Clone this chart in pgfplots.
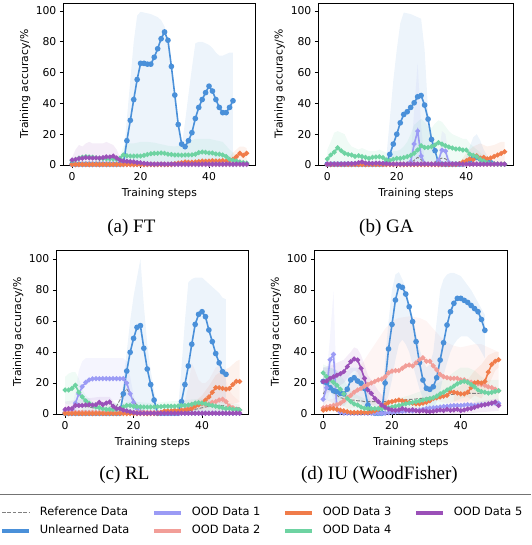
\documentclass[border=0pt]{standalone}
\usepackage{fontspec}
\setmainfont{DejaVu Sans}
\newfontfamily\capfont{Liberation Serif}
\usepackage{pgfplots}
\pgfplotsset{compat=1.18}
\usepackage{pgfplotstable}
\usepgfplotslibrary{fillbetween}

\definecolor{cun}{HTML}{4A90D9}
\definecolor{co1}{HTML}{9B9BF5}
\definecolor{co2}{HTML}{F29E98}
\definecolor{co3}{HTML}{F07C4A}
\definecolor{co4}{HTML}{6ED3A2}
\definecolor{co5}{HTML}{9B50B8}
\definecolor{cref}{HTML}{808080}

% ---------------- (a) FT ----------------
\pgfplotstableread{
x ref un o1 o2 o3 o4 o5
0 1.0 0.5 0.3 0.5 0.3 2.8 3.2
1 1.0 0.5 0.3 0.5 0.3 3.5 3.6
2 1.2 0.5 0.3 0.5 0.3 4.5 4.2
3 1.2 0.5 0.3 0.5 0.3 5.0 4.4
4 1.2 0.5 0.3 0.5 0.3 5.4 4.8
5 1.2 0.5 0.3 0.5 0.3 5.2 4.6
6 1.2 0.5 0.3 0.5 0.3 5.0 4.5
7 1.2 0.5 0.3 0.5 0.3 4.6 4.6
8 1.2 0.5 0.3 0.5 0.3 4.3 4.4
9 1.2 0.5 0.3 0.5 0.3 4.2 4.8
10 1.2 0.5 0.3 0.5 0.3 4.0 5.3
11 1.2 0.5 0.3 0.5 0.3 4.0 5.2
12 1.2 0.5 0.3 0.5 0.3 3.9 5.8
13 1.2 0.5 0.3 0.5 0.3 3.8 4.6
14 1.2 0.5 0.3 0.5 0.3 4.5 3.2
15 1.2 0.8 0.3 0.5 0.3 6.5 2.6
16 1.2 15.8 0.3 0.5 0.3 6.0 2.4
17 1.2 29.0 0.3 0.5 0.3 5.8 2.2
18 1.2 42.5 0.3 0.5 0.3 5.8 2.0
19 1.2 55.5 0.3 0.5 0.3 5.8 1.6
20 1.2 66.0 0.3 0.5 0.3 5.8 1.4
21 1.2 66.0 0.3 0.5 0.3 6.2 1.0
22 1.2 65.5 0.3 0.5 0.3 6.8 0.8
23 1.2 65.5 0.3 0.5 0.3 7.3 0.6
24 1.2 70.0 0.3 0.5 0.3 7.6 0.6
25 1.2 75.5 0.3 0.5 0.3 7.6 0.6
26 1.2 82.0 0.3 0.5 0.3 7.8 0.6
27 1.2 86.4 0.3 0.5 0.3 7.6 0.6
28 1.2 81.0 0.3 0.5 0.3 7.0 0.6
29 1.2 64.0 0.3 0.5 0.3 6.8 0.6
30 1.2 45.4 0.3 0.5 0.8 6.5 0.6
31 1.2 26.3 0.3 0.5 1.2 6.5 0.6
32 1.2 13.6 0.3 0.5 1.5 6.4 0.6
33 1.2 11.9 0.3 0.5 2.0 6.5 0.6
34 1.2 15.8 0.3 0.5 1.8 6.5 0.6
35 1.2 21.0 0.3 0.5 1.8 6.6 0.6
36 1.2 30.2 0.3 0.5 2.0 7.0 0.6
37 1.2 37.4 0.3 0.5 2.2 8.0 0.6
38 1.2 42.5 0.3 0.5 2.5 8.4 0.6
39 1.2 47.0 0.3 0.5 2.4 8.2 0.6
40 1.2 51.2 0.3 0.5 2.5 7.8 0.6
41 1.2 48.0 0.3 0.5 2.8 7.8 0.6
42 1.2 42.5 0.3 0.5 2.6 7.2 0.6
43 1.2 37.4 0.3 0.5 2.6 7.0 0.6
44 1.2 34.0 0.3 0.5 2.8 6.5 0.6
45 1.2 34.0 0.3 0.5 2.5 5.5 0.6
46 1.2 37.4 0.3 0.5 3.2 3.7 0.6
47 1.2 41.7 0.3 0.5 3.7 3.0 0.6
48 1.2 nan 0.3 0.5 5.4 2.6 0.6
49 1.2 nan 0.3 0.5 7.6 2.0 0.6
50 1.2 nan 0.3 0.5 6.3 1.5 0.6
51 1.2 nan 0.3 0.5 7.6 1.2 0.6
}\tA
\pgfplotstableread{
x hi lo
14 0.5 0
15 5 0
16 30 0
17 55 0
18 80 0
19 97 0
20 99.5 0
21 99 0
22 98.5 0
23 98 0
24 97 0
25 96 0
26 94 0
27 90 0
28 80 0
29 60 0
30 42 0
31 24 0
32 12 0
33 28 0
34 46 0
35 63 0
36 79 0
37 80 0
38 80 0
39 79 0
40 78 0
41 76 0
42 73 0
43 71 0
44 71 0
45 72 0
46 73 0
47 73 0
}\bAun
\pgfplotstableread{
x hi lo
0 5 1
1 10 1
2 13 1
3 12 1
4 14 1
5 15 1
6 14 1
7 14 1
8 14 1
9 14 1
10 15 1
11 14 1
12 13 1
13 10 1
14 5 1
15 4 1
16 3 0.5
20 2 0.3
}\bAo
\pgfplotstableread{
x hi lo
14 6 1
15 12 1
16 14 1
18 14 1
20 15 1
22 15 1
24 14.5 1
26 13.5 1
28 12.5 1
30 12 1
32 13 1
34 15 1
36 17 1
38 17 1
40 17 1
42 16 1
44 15 1
46 10 0.5
48 6 0.5
}\bAg
\pgfplotstableread{
x hi lo
45 3 1
46 5 1
47 8 1
48 10 1.5
49 12 3
50 12 2
51 11 3
}\bAr

% ---------------- (b) GA ----------------
\pgfplotstableread{
x ref un o1 o2 o3 o4 o5
0 1.2 0.5 0.5 0.5 0.3 3.9 0.6
1 1.2 0.5 0.5 0.5 0.3 6.5 0.6
2 1.2 0.5 0.5 0.5 0.3 8.4 0.6
3 1.2 0.5 0.5 0.5 0.3 11.2 0.6
4 1.2 0.5 0.5 0.5 0.3 9.3 0.6
5 1.2 0.5 0.5 0.5 0.3 7.6 0.6
6 1.2 0.5 0.5 0.5 0.3 6.9 0.8
7 1.2 0.5 0.5 0.5 0.3 6.5 0.8
8 1.2 0.5 0.5 0.5 0.3 5.6 1.0
9 1.2 0.5 0.5 0.5 0.3 6.0 1.5
10 1.2 0.5 0.5 0.5 0.3 5.4 2.0
11 1.2 0.5 0.5 0.5 0.3 5.0 1.2
12 1.2 0.5 0.5 0.5 0.3 4.3 1.0
13 1.2 0.5 0.5 0.5 0.3 5.0 1.0
14 1.2 0.5 0.5 0.5 0.3 5.2 1.2
15 1.2 0.5 0.5 0.5 0.3 5.4 1.2
16 1.2 0.5 0.5 0.5 0.3 4.8 1.0
17 1.2 1.0 0.5 0.5 0.3 3.2 0.8
18 1.2 6.9 0.5 0.5 0.3 3.0 0.6
19 1.2 13.6 0.5 0.5 0.3 3.7 0.6
20 1.2 20.0 0.5 0.5 0.3 4.3 0.6
21 1.2 27.4 0.5 0.5 0.3 4.3 0.6
22 1.2 32.8 0.5 0.5 0.3 4.8 0.6
23 1.2 34.6 0.5 0.5 0.3 5.4 0.6
24 1.5 37.4 2.0 0.5 0.3 6.3 0.6
25 3.0 40.4 13.6 0.5 0.3 7.6 0.6
26 5.0 44.3 22.0 0.5 0.3 9.7 0.6
27 3.5 45.1 5.8 0.5 0.3 12.5 0.6
28 1.5 38.9 1.0 0.5 0.3 11.4 0.6
29 1.0 29.8 0.5 0.5 0.3 11.4 0.6
30 1.0 16.6 0.5 0.5 0.3 11.9 0.6
31 2.0 9.3 0.5 0.5 0.3 13.0 0.6
32 3.5 1.0 3.0 0.5 0.3 14.5 0.6
33 4.5 0.5 9.7 0.5 0.3 13.6 0.6
34 4.0 0.5 9.0 0.5 0.3 12.5 0.6
35 2.0 0.5 1.5 0.5 0.3 11.7 0.6
36 1.2 0.5 0.5 0.5 0.3 11.0 0.6
37 1.2 0.5 0.5 0.5 0.3 10.4 0.6
38 1.2 0.5 0.5 0.5 0.8 10.4 0.6
39 1.2 0.5 0.5 0.5 2.0 9.7 0.6
40 1.2 1.5 0.5 0.5 2.8 9.7 0.6
41 1.2 3.0 0.5 0.5 4.0 7.1 0.6
42 1.2 4.5 0.5 0.5 3.5 6.3 0.6
43 1.2 5.0 0.5 0.5 6.0 5.4 0.6
44 1.2 4.0 0.5 0.5 4.5 3.7 0.6
45 1.2 3.0 0.5 0.5 5.0 2.6 0.6
46 1.2 2.0 0.5 0.5 4.0 1.5 0.6
47 1.2 1.5 0.5 0.5 4.5 1.0 0.6
48 1.2 nan 0.5 0.5 5.5 0.8 0.6
49 1.2 nan 0.5 0.5 6.5 0.6 0.6
50 1.2 nan 0.5 0.5 7.5 0.5 0.6
51 1.2 nan 0.5 0.5 8.6 0.5 0.6
}\tB
\pgfplotstableread{
x hi lo
16 0.5 0
17 5 0
18 30 0
19 55 0
20 75 0
21 92 0
22 99 0
23 98.5 0
24 98 0
25 97 0
26 96 0
27 95 0
28 75 0
29 35 0
30 15 0
31 5 0
32 2 0
33 0.5 0
39 0.5 0
40 5 0
41 12 0
42 18 0
43 20 0
44 16 0
45 10 0
46 6 0
47 3 0
}\bBun
\pgfplotstableread{
x hi lo
23 0.5 0
24 5 0
25 35 0
26 66 0
27 25 0
28 3 0
29 0.5 0
31 0.5 0
32 5 0
33 22 0
34 20 0
35 5 0
36 0.5 0
}\bBl
\pgfplotstableread{
x hi lo
0 10 0
1 15 0
2 21 0
3 22 0
4 21 0
5 20 0
6 15 0
7 12 0
8 11 0
9 10 0
10 11 0
11 10 0
12 9 0
13 9 0
14 9 0
15 10 0
16 9 0
17 8 0
18 8 0
19 9 0
20 9 0
21 10 0
22 12 0
23 15 0
24 20 0
25 26 0
26 28 0
27 30 0
28 28 0
29 25 0
30 24 0
31 27 0
32 29 0
33 28 0
34 25 0
35 22 0
36 20 0
37 19 0
38 18 0
39 17 0
40 17 0
41 14 0
42 12 0
43 10 0
44 8 0
45 6 0
46 4 0
47 2 0
}\bBg
\pgfplotstableread{
x hi lo
38 1 0
40 8 0
42 12 0
44 14 0
46 12 0
48 13 0
50 15 0
51 15 0
}\bBr

% ---------------- (c) RL ----------------
\pgfplotstableread{
x ref un o1 o2 o3 o4 o5
0 2.0 0.5 2.5 1.0 0.3 15.5 3.0
1 3.0 0.5 2.5 1.0 0.3 15.5 3.5
2 4.0 0.5 3.0 1.0 0.3 16.5 3.5
3 5.0 0.5 7.0 1.0 0.3 18.5 5.5
4 5.5 0.5 13.0 1.0 0.3 14.0 5.5
5 5.0 0.5 17.6 1.0 0.3 11.0 5.5
6 5.0 0.5 20.4 1.0 0.3 8.5 5.8
7 4.5 0.5 22.0 1.0 0.3 7.0 6.0
8 4.0 0.5 22.6 1.0 0.3 5.5 5.8
9 4.0 0.5 22.8 1.0 0.3 4.5 6.0
10 4.0 0.5 22.8 1.0 0.3 4.0 7.5
11 3.5 0.5 22.8 1.0 0.3 3.5 6.0
12 3.0 0.5 22.8 1.0 0.3 3.0 7.0
13 3.0 0.5 22.8 1.0 0.3 3.0 7.7
14 3.0 0.5 22.8 1.0 0.3 3.0 5.0
15 5.0 0.5 22.8 1.0 0.3 3.0 3.5
16 9.0 0.5 22.8 1.0 0.3 3.5 3.5
17 14.0 13.0 22.8 1.0 0.3 4.5 2.5
18 16.0 27.7 20.0 1.0 0.3 5.5 2.0
19 13.0 39.8 13.0 1.0 0.3 5.5 1.5
20 9.0 48.8 7.5 1.0 0.3 5.0 1.0
21 5.5 55.9 3.5 1.0 0.3 4.8 0.5
22 3.5 57.0 1.5 1.0 0.3 4.6 0.5
23 2.0 42.4 0.8 1.0 0.3 4.5 0.5
24 1.0 29.0 0.5 1.0 0.3 4.5 0.5
25 0.5 19.0 0.5 1.0 0.3 4.5 0.5
26 0.5 9.0 0.5 1.0 0.3 4.6 0.5
27 0.5 0.5 0.5 1.0 0.3 4.7 0.5
28 0.5 0.5 0.5 1.0 1.0 4.8 0.5
29 0.5 0.5 0.5 1.0 2.0 5.0 0.5
30 0.5 0.5 0.5 1.0 2.0 5.0 0.5
31 0.5 0.5 0.5 1.0 2.0 5.0 0.5
32 0.5 0.5 0.5 1.0 2.5 5.0 0.5
33 0.5 0.5 0.5 1.0 2.0 5.2 0.5
34 1.0 8.0 0.5 2.0 2.5 5.5 0.5
35 1.5 19.0 0.5 3.0 2.5 5.5 0.5
36 2.0 31.0 0.5 4.0 3.0 5.8 0.5
37 2.5 45.0 0.5 6.0 3.5 6.2 0.5
38 3.0 57.8 0.5 6.5 5.0 7.0 0.5
39 3.5 64.3 0.5 6.0 6.0 7.3 0.5
40 4.0 66.0 0.5 6.5 7.0 7.0 0.5
41 4.5 62.8 0.5 6.0 9.0 6.5 0.5
42 5.0 54.2 0.5 6.5 11.0 6.0 0.5
43 5.0 46.7 0.5 7.5 14.0 5.5 0.5
44 5.5 39.0 0.5 8.0 17.0 5.0 0.5
45 5.5 33.0 0.5 9.0 17.0 4.5 0.5
46 5.5 27.3 0.5 9.5 16.5 4.0 0.5
47 5.0 25.6 0.5 8.0 16.0 3.5 0.5
48 5.0 nan 0.5 5.0 16.5 3.5 0.5
49 4.5 nan 0.5 4.0 19.0 3.0 0.5
50 4.0 nan 0.5 3.0 21.0 3.0 0.5
51 4.0 nan 0.5 2.5 21.0 2.6 0.5
}\tC
\pgfplotstableread{
x hi lo
15 0.5 0
16 3 0
17 20 0
18 40 0
19 60 0
20 76 0
21 88 0
22 100 0
23 70 0
24 45 0
25 28 0
26 15 0
27 3 0
28 0.5 0
32 0.5 0
33 3 0
34 30 0
35 60 0
36 85 0
37 87 0
38 88 0
39 88 0
40 88 0
41 86 0
42 84 0
43 82 0
44 80 0
45 78 0
46 75 0
47 74 0
}\bCun
\pgfplotstableread{
x hi lo
1 3 1
2 4 1
3 14 2
4 28 4
5 34 6
6 36 9
17 36 9
18 34 8
19 24 5
20 12 3
21 5 1
22 2 0.5
}\bCl
\pgfplotstableread{
x hi lo
0 24 7
1 26 6
2 27 7
3 27 9
4 23 6
5 16 3
6 12 1
8 8 1
10 7 1
15 7 1
20 8 1
25 7 1
30 8 1
35 9 1
40 10 1
45 8 1
51 6 1
}\bCg
\pgfplotstableread{
x hi lo
33 1 0
34 3 0
35 8 0
36 18 0
37 33 0
38 28 0
39 22 0
40 20 0
41 20 0
42 22 0
43 26 0
44 30 0
45 31 0
46 28 0
47 22 0
48 15 0
49 12 0
50 10 0
51 8 0
}\bCs
\pgfplotstableread{
x hi lo
36 4 1
38 8 2
40 12 3
42 18 5
44 25 8
46 28 7
48 30 6
50 34 7
51 35 8
}\bCr
\pgfplotstableread{
x hi lo
0 8 1
3 9 2
6 10 2
10 11 3
13 11 3
15 6 1
18 3 0.5
}\bCp

% ---------------- (d) IU ----------------
\pgfplotstableread{
x ref un o1 o2 o3 o4 o5
0 13.0 21.0 9.5 4.0 2.5 26.5 20.9
1 16.0 20.0 17.0 4.5 3.0 24.0 21.3
2 18.0 17.0 35.0 5.0 3.5 22.0 23.0
3 14.0 15.0 38.5 5.5 3.5 20.4 24.0
4 12.0 14.4 3.0 6.0 3.0 18.5 25.0
5 10.5 13.3 1.0 7.0 2.5 16.0 26.0
6 10.0 13.0 0.5 8.5 2.0 13.0 27.3
7 9.5 16.0 0.5 10.5 1.5 10.0 30.5
8 9.0 22.0 0.5 12.0 1.0 8.0 33.8
9 9.0 23.4 0.5 14.0 1.0 6.5 35.5
10 8.5 21.3 0.5 15.5 1.0 5.8 34.8
11 8.5 19.8 0.5 16.5 1.0 4.5 29.5
12 8.0 16.5 0.5 18.0 1.0 3.7 23.0
13 8.0 5.8 0.5 19.0 1.0 3.5 15.5
14 8.0 1.5 0.5 20.0 1.5 3.5 13.3
15 8.0 0.5 0.5 21.0 2.0 3.5 10.0
16 8.0 0.5 0.5 22.0 3.0 3.5 8.0
17 8.0 0.5 0.5 22.5 4.5 3.5 5.8
18 8.0 20.0 0.5 24.0 6.0 3.8 4.3
19 8.2 42.0 0.8 26.5 7.5 4.0 3.2
20 8.5 57.8 1.0 27.7 8.0 4.5 2.6
21 8.7 73.5 1.2 28.0 8.5 5.0 2.4
22 9.0 82.6 1.5 28.0 9.0 5.5 2.6
23 9.0 81.7 1.8 29.5 8.5 6.0 3.5
24 9.2 77.4 2.0 31.0 8.0 6.5 2.8
25 9.4 69.2 2.0 31.6 7.5 7.0 2.4
26 9.5 59.6 2.0 31.0 7.0 7.5 2.8
27 9.7 46.7 2.2 33.0 6.5 8.0 2.2
28 10.0 33.1 2.5 35.0 6.5 8.5 1.8
29 10.2 21.9 3.0 36.3 7.0 9.0 2.2
30 10.4 16.6 3.5 34.0 7.5 9.5 1.8
31 10.6 15.9 3.8 34.0 8.5 10.0 1.5
32 10.8 17.6 4.0 31.0 10.0 10.5 1.8
33 11.0 23.4 4.2 28.5 10.5 11.5 2.2
34 11.5 34.8 4.5 25.5 11.0 13.0 2.6
35 12.0 46.0 4.8 24.0 11.5 14.0 2.2
36 12.3 57.4 5.0 23.5 12.0 15.5 3.0
37 12.5 66.0 5.2 23.0 14.5 16.5 2.4
38 12.7 71.4 5.5 23.0 14.0 18.0 2.6
39 13.0 74.6 5.5 23.0 13.5 19.5 3.0
40 13.0 74.6 5.5 22.0 13.0 20.5 2.2
41 13.0 73.3 5.8 22.0 13.0 21.0 2.6
42 13.2 72.0 6.0 21.0 14.0 20.5 3.2
43 13.3 70.0 5.8 20.5 17.0 19.0 3.5
44 13.3 68.0 5.5 20.0 20.0 17.5 4.3
45 13.3 66.0 5.8 19.5 20.5 15.5 5.0
46 13.5 61.0 6.0 19.0 20.0 14.5 5.6
47 13.7 54.0 6.2 18.5 21.0 14.0 6.0
48 14.0 nan 6.5 17.5 27.0 13.5 6.5
49 14.0 nan 6.8 17.0 32.0 14.0 7.0
50 14.2 nan 7.0 16.0 34.0 14.5 7.7
51 14.4 nan 7.0 15.0 35.0 15.0 5.5
}\tD
\pgfplotstableread{
x hi lo
0 30 10
2 30 8
4 28 5
6 25 5
8 30 10
10 30 10
12 25 5
13 15 0
14 5 0
15 1 0
17 5 0
18 35 5
19 60 12
20 80 22
21 90 35
22 91.5 45
23 87 48
24 81 45
25 72 40
26 63 32
27 52 24
28 42 16
29 35 10
30 30 5
31 32 3
32 40 3
33 60 8
34 80 15
35 87 25
36 90 33
37 91 40
38 91 45
39 90 48
40 89 50
41 86 50
42 83 50
43 80 48
44 76 46
45 72 44
46 68 40
47 64 36
}\bDun
\pgfplotstableread{
x hi lo
0 12 5
1 25 8
2 50 15
3 79 10
4 10 0
5 2 0
6 1 0
}\bDl
\pgfplotstableread{
x hi lo
0 8 1
3 10 2
6 15 3
9 25 4
12 35 5
15 45 6
18 55 8
20 60 8
22 62 8
25 63 9
28 62 10
30 60 10
32 55 9
34 50 8
36 46 7
38 44 6
40 43 6
42 44 5
44 45 5
46 45 5
48 43 5
51 40 5
}\bDs
\pgfplotstableread{
x hi lo
0 30 12
3 32 16
6 35 20
8 40 26
9 43 28
10 42 27
11 38 22
12 32 15
13 25 8
14 22 6
16 15 3
18 10 1
20 6 0
25 5 0
30 4 0
35 5 0
40 6 0
45 8 1
51 10 2
}\bDp
\pgfplotstableread{
x hi lo
0 32 20
2 30 15
4 28 10
6 22 5
8 15 2
10 12 1
12 10 0
15 8 0
20 9 1
25 12 3
30 16 4
35 22 6
38 27 8
40 30 10
42 30 11
44 28 8
46 24 6
48 22 6
51 22 8
}\bDg
\pgfplotstableread{
x hi lo
38 16 8
40 18 8
42 22 8
44 28 12
46 32 10
48 38 18
50 40 28
51 40 30
}\bDr

\newcommand{\band}[3]{%
  \addplot[draw=none, no marks, name path=#3h, forget plot] table[x=x,y=hi]{#1};
  \addplot[draw=none, no marks, name path=#3l, forget plot] table[x=x,y=lo]{#1};
  \addplot[fill=#2, fill opacity=0.1, draw=none, forget plot] fill between[of=#3h and #3l];
}
\newcommand{\ser}[4]{%
  \addplot[#3, line width=1.6pt, mark=*, mark size=#4, mark options={solid, fill=#3}] table[x=x,y=#2]{#1};
}
\newcommand{\refl}[1]{%
  \addplot[cref, line width=0.9pt, dash pattern=on 3.7pt off 1.6pt, no marks] table[x=x,y=ref]{#1};
}

\pgfplotsset{
  sub/.style={
    scale only axis,
    anchor=north west,
    xmin=-2.55, xmax=53.55, ymin=0,
    xtick={0,20,40}, ytick={0,20,40,60,80,100},
    tick pos=left,
    tick align=outside,
    major tick length=3.5pt,
    every tick/.style={black, line width=0.8pt},
    axis line style={black, line width=0.8pt},
    tick label style={font=\fontsize{10.8}{12}\selectfont},
    /pgf/number format/assume math mode=true,
    xlabel={Training steps},
    ylabel={Training accuracy/\%},
    label style={font=\fontsize{10.8}{12}\selectfont},
    xlabel style={at={(axis description cs:0.5,-0.193)}, anchor=base},
    ylabel style={at={(axis description cs:-0.184,0.5)}, anchor=base},
  },
}

\begin{document}
\begin{tikzpicture}

% (a)
\begin{axis}[sub, at={(63pt,-3pt)}, width=192pt, height=162pt, ymax=105.2]
\band{\bAo}{co5}{ap}
\band{\bAg}{co4}{ag}
\band{\bAr}{co3}{ar}
\band{\bAun}{cun}{au}
\refl{\tA}
\ser{\tA}{un}{cun}{2pt}
\ser{\tA}{o1}{co1}{1.6pt}
\ser{\tA}{o2}{co2}{1.6pt}
\ser{\tA}{o3}{co3}{1.6pt}
\ser{\tA}{o4}{co4}{1.6pt}
\ser{\tA}{o5}{co5}{1.6pt}
\end{axis}

% (b)
\begin{axis}[sub, at={(318pt,-3pt)}, width=195pt, height=162pt, ymax=105.2]
\band{\bBg}{co4}{bg}
\band{\bBr}{co3}{br}
\band{\bBl}{co1}{bl}
\band{\bBun}{cun}{bu}
\refl{\tB}
\ser{\tB}{un}{cun}{2pt}
\ser{\tB}{o1}{co1}{1.6pt}
\ser{\tB}{o2}{co2}{1.6pt}
\ser{\tB}{o3}{co3}{1.6pt}
\ser{\tB}{o4}{co4}{1.6pt}
\ser{\tB}{o5}{co5}{1.6pt}
\end{axis}

% (c)
\begin{axis}[sub, at={(56pt,-250pt)}, width=192pt, height=164pt, ymax=105.8]
\band{\bCp}{co5}{cp}
\band{\bCg}{co4}{cg}
\band{\bCl}{co1}{cl}
\band{\bCs}{co2}{cs}
\band{\bCr}{co3}{cr}
\band{\bCun}{cun}{cu}
\refl{\tC}
\ser{\tC}{un}{cun}{2pt}
\ser{\tC}{o1}{co1}{1.6pt}
\ser{\tC}{o2}{co2}{1.6pt}
\ser{\tC}{o3}{co3}{1.6pt}
\ser{\tC}{o4}{co4}{1.6pt}
\ser{\tC}{o5}{co5}{1.6pt}
\end{axis}

% (d)
\begin{axis}[sub, at={(314pt,-250pt)}, width=193pt, height=164pt, ymax=105.8]
\band{\bDs}{co2}{ds}
\band{\bDp}{co5}{dp}
\band{\bDg}{co4}{dg}
\band{\bDr}{co3}{dr}
\band{\bDl}{co1}{dl}
\band{\bDun}{cun}{du}
\refl{\tD}
\ser{\tD}{un}{cun}{2pt}
\ser{\tD}{o1}{co1}{1.6pt}
\ser{\tD}{o2}{co2}{1.6pt}
\ser{\tD}{o3}{co3}{1.6pt}
\ser{\tD}{o4}{co4}{1.6pt}
\ser{\tD}{o5}{co5}{1.6pt}
\end{axis}

% captions
\node[font=\capfont\fontsize{19}{22}\selectfont, anchor=base] at (131pt,-232.3pt) {(a) FT};
\node[font=\capfont\fontsize{19}{22}\selectfont, anchor=base] at (386pt,-232.3pt) {(b) GA};
\node[font=\capfont\fontsize{19}{22}\selectfont, anchor=base] at (124pt,-479pt) {(c) RL};
\node[font=\capfont\fontsize{19}{22}\selectfont, anchor=base] at (379pt,-479pt) {(d) IU (WoodFisher)};

\draw[line width=0.8pt, color=black!55] (0pt,-494pt) -- (531pt,-494pt);

% legend
\begin{axis}[hide axis, scale only axis, width=1pt, height=1pt, at={(0pt,-507.5pt)}, anchor=north west,
  xmin=0, xmax=1, ymin=0, ymax=1,
  legend columns=4,
  legend cell align=left,
  legend image code/.code={\draw[#1] (0pt,0pt) -- (27pt,0pt);},
  legend style={at={(axis description cs:0,1)}, anchor=north west, draw=none, fill=none,
    inner sep=0pt, outer sep=0pt, font=\fontsize{11.4}{13}\selectfont, row sep=7pt,
    nodes={inner sep=0pt, text height=8.4pt, text depth=2.5pt},
    /tikz/every odd column/.append style={column sep=9pt},
    /tikz/every even column/.append style={column sep=23pt}},
]
\addplot[draw=none, no marks, forget plot] coordinates {(0,0) (1,1)};
\addlegendimage{cref, line width=1pt, dash pattern=on 3.7pt off 1.6pt}
\addlegendentry{Reference Data}
\addlegendimage{co1, line width=3.5pt}
\addlegendentry{OOD Data 1}
\addlegendimage{co3, line width=3.5pt}
\addlegendentry{OOD Data 3}
\addlegendimage{co5, line width=3.5pt}
\addlegendentry{OOD Data 5}
\addlegendimage{cun, line width=3.5pt}
\addlegendentry{Unlearned Data}
\addlegendimage{co2, line width=3.5pt}
\addlegendentry{OOD Data 2}
\addlegendimage{co4, line width=3.5pt}
\addlegendentry{OOD Data 4}
\end{axis}

\path[use as bounding box] (0pt,0pt) rectangle (531pt,-545pt);
\end{tikzpicture}
\end{document}
